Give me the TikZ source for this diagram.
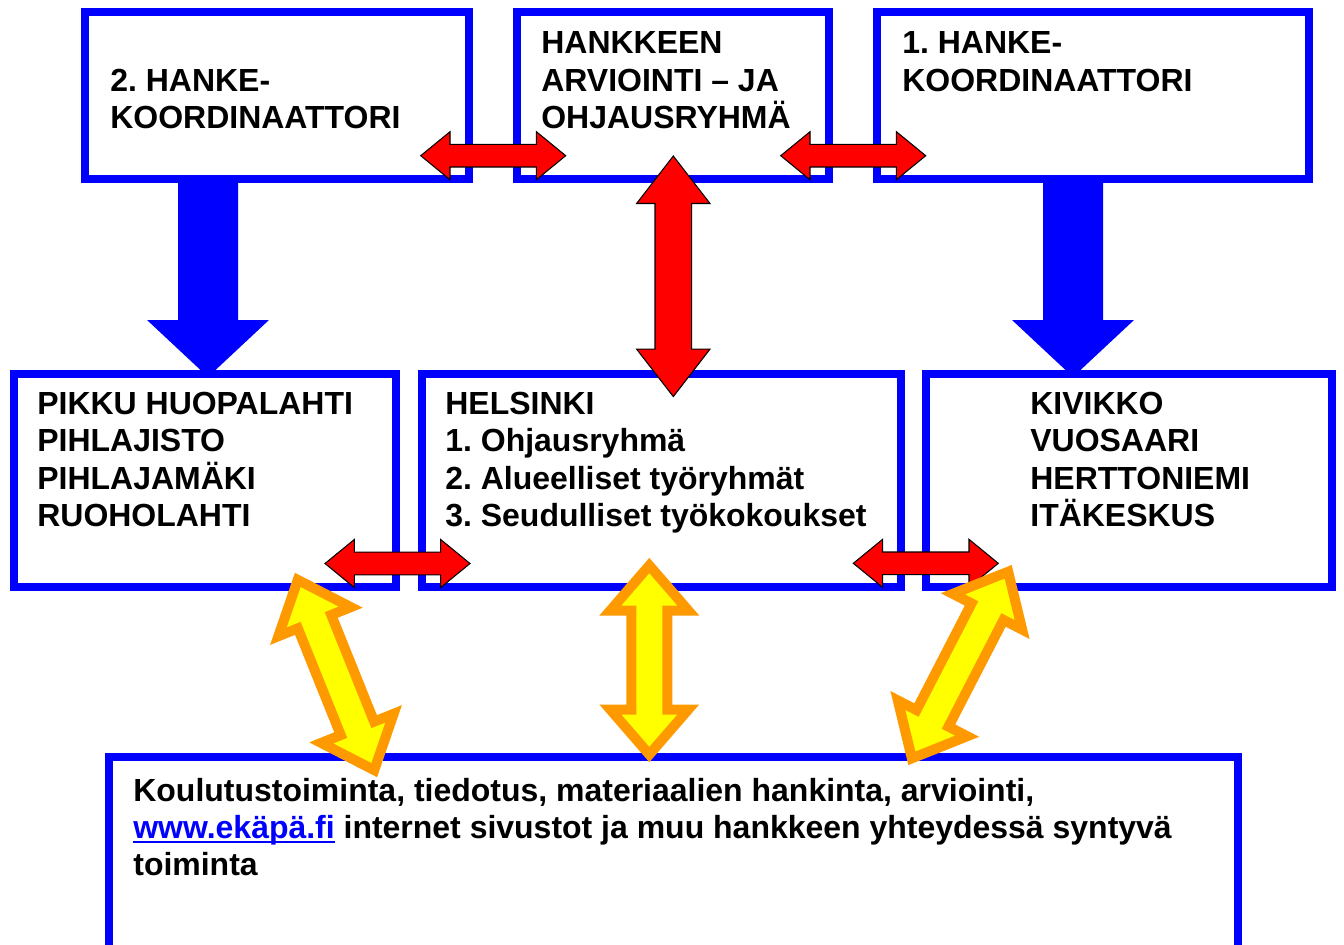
\documentclass[tikz,border=0pt]{standalone}
\usepackage{fontspec}
\setmainfont{Liberation Sans}
\usepackage{xcolor}
\usepackage{tikz}
\usetikzlibrary{positioning}

\definecolor{boxblue}{RGB}{0,0,255}
\definecolor{arrred}{RGB}{255,0,0}
\definecolor{arryellow}{RGB}{255,255,0}
\definecolor{arrorange}{RGB}{255,153,0}

% #1 style, #2 centre, #3 angle, #4 half length, #5 head length, #6 half shaft, #7 half head
\newcommand{\dblarrow}[7]{%
\begin{scope}[shift={#2},rotate=#3]
\draw[#1] (-#4,0) -- ++(#5,#7) -- ++(0,#6-#7) -- (#4-#5,#6) -- ++(0,#7-#6) -- (#4,0)
  -- (#4-#5,-#7) -- ++(0,#7-#6) -- (-#4+#5,-#6) -- ++(0,#6-#7) -- cycle;
\end{scope}}
% blue underlined web address
\newcommand{\weblink}[1]{{\color{boxblue}\setbox0\hbox{#1}\rlap{\vrule height -1.2pt depth 2.5pt width \wd0}\box0}}

\tikzset{
  box/.style={draw=boxblue, line width=0.16cm, rectangle, anchor=north west, inner sep=0pt, outer sep=0pt},
  txt/.style={font=\fontsize{18.2}{21.3}\selectfont\bfseries\frenchspacing, align=left, inner sep=0pt, anchor=north west},
  redarr/.style={fill=arrred, draw=black, line width=0.6pt, line join=miter},
  yelarr/.style={fill=arryellow, draw=arrorange, line width=0.2cm, line join=miter},
}

\begin{document}
\begin{tikzpicture}[x=0.02cm, y=-0.02cm]
\useasboundingbox (0,0) rectangle (1344,944);
\clip (0,0) rectangle (1344,944);

% boxes
\node[box, minimum width=7.68cm, minimum height=3.34cm] (koord2) at (85,12) {};
\node[box, minimum width=6.24cm, minimum height=3.34cm] (ohjaus) at (517,12) {};
\node[box, minimum width=8.64cm, minimum height=3.34cm] (koord1) at (877,12) {};
\node[box, minimum width=7.64cm, minimum height=4.26cm] (lansi) at (14,374) {};
\node[box, minimum width=9.58cm, minimum height=4.26cm] (helsinki) at (422,374) {};
\node[box, minimum width=8.12cm, minimum height=4.26cm] (ita) at (926,374) {};
\node[box, minimum width=22.58cm, minimum height=4.6cm] (toiminta) at (109,756.5) {};

\node[txt] (koord2txt) at (110,68.5) {2. HANKE-\\KOORDINAATTORI};
\node[txt] (ohjaustxt) at (541,31.5) {HANKKEEN\\ARVIOINTI -- JA\\OHJAUSRYHMÄ};
\node[txt] (koord1txt) at (902,31.5) {1. HANKE-\\KOORDINAATTORI};
\node[txt] (lansitxt) at (37,391.5) {PIKKU HUOPALAHTI\\PIHLAJISTO\\PIHLAJAMÄKI\\RUOHOLAHTI};
\node[txt] (helsinkitxt) at (445,391.5) {HELSINKI\\1. Ohjausryhmä\\2. Alueelliset työryhmät\\3. Seudulliset työkokoukset};
\node[txt] (itatxt) at (1030,391.5) {KIVIKKO\\VUOSAARI\\HERTTONIEMI\\ITÄKESKUS};
\node[txt] (toimintatxt) at (133,777.5) {Koulutustoiminta, tiedotus, materiaalien hankinta, arviointi,\\
  \weblink{www.ekäpä.fi} internet sivustot ja muu hankkeen yhteydessä syntyvä\\toiminta};

% blue arrows down
\foreach \cx in {208,1073}{
\fill[boxblue] (\cx-30,175) -- (\cx+30,175) -- (\cx+30,320) -- (\cx+61,320) -- (\cx,377)
  -- (\cx-61,320) -- (\cx-30,320) -- cycle;
}

% red arrows
\foreach \cx/\cy in {493.2/155.7, 853.2/155.7, 397.5/563.5, 925.8/563.3}{
\dblarrow{redarr}{(\cx,\cy)}{0}{72.5}{29.3}{11.3}{24}
}
\dblarrow{redarr}{(673.3,276.3)}{90}{120.3}{47.5}{18.3}{36.7}

% yellow arrows
\dblarrow{yelarr}{(336,675)}{111.9}{102.5}{45}{18}{39}
\dblarrow{yelarr}{(649.3,660)}{90}{94.5}{45}{18}{39}
\dblarrow{yelarr}{(960,665)}{62.7}{105}{45}{18}{39}
\end{tikzpicture}
\end{document}
